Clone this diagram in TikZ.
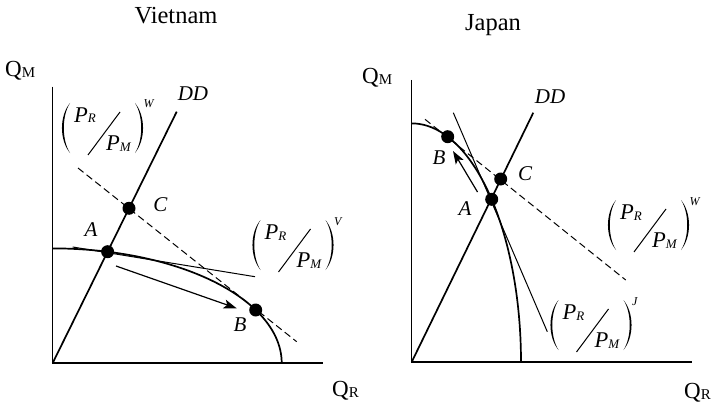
\documentclass[tikz,border=0pt]{standalone}
\usepackage{fontspec}
\setmainfont{Liberation Serif}
\usetikzlibrary{arrows.meta}

\tikzset{
  axisline/.style={line width=1.3pt},
  ppf/.style={line width=1.7pt},
  ddline/.style={line width=1.7pt},
  thinline/.style={line width=1pt},
  dashline/.style={line width=1pt, dash pattern=on 7pt off 4pt},
  movearrow/.style={line width=1.2pt, -{Stealth[length=13pt,width=9pt,inset=3pt]}},
  dot/.style={circle, fill=black, inner sep=0pt, minimum size=13pt},
  ptlabel/.style={font=\fontsize{21}{21}\selectfont\itshape, inner sep=0pt},
  titlelabel/.style={font=\fontsize{24.5}{24.5}\selectfont, inner sep=0pt, anchor=base},
  axlabel/.style={font=\fontsize{23}{23}\selectfont, inner sep=0pt, anchor=base west},
  pics/pratio/.style={code={
    \fill (-32.5,-25) .. controls (-43.2,-12) and (-43.2,12) .. (-32.5,25)
          .. controls (-40.8,12) and (-40.8,-12) .. (-32.5,-25) -- cycle;
    \fill (32.5,-25) .. controls (43.2,-12) and (43.2,12) .. (32.5,25)
          .. controls (40.8,12) and (40.8,-12) .. (32.5,-25) -- cycle;
    \node[anchor=base west, inner sep=0pt] (-num) at (-28.5,-6)
      {\fontsize{22.5}{22.5}\selectfont\itshape P\fontsize{13}{13}\selectfont\raisebox{-1pt}{R}};
    \draw[thinline] (-14.5,27) -- (17.5,-16);
    \node[anchor=base west, inner sep=0pt] (-den) at (3.5,22)
      {\fontsize{22.5}{22.5}\selectfont\itshape P\fontsize{13}{13}\selectfont\raisebox{-1pt}{M}};
    \node[anchor=base west, inner sep=0pt] (-sup) at (41,-20)
      {\fontsize{12}{12}\selectfont\itshape #1};
  }}
}

\begin{document}
\begin{tikzpicture}[x=1pt, y=-1pt]
\useasboundingbox (0,0) rectangle (713,404);

% ---------------- Vietnam ----------------
\node[titlelabel] (vtitle) at (176,24) {Vietnam};
\node[axlabel] (vqm) at (5,77) {Q{\fontsize{15}{15}\selectfont\raisebox{-1pt}{M}}};
\node[axlabel] (vqr) at (332,396) {Q{\fontsize{15}{15}\selectfont\raisebox{-1pt}{R}}};

\coordinate (vO) at (52.7,363);
\coordinate (vYtop) at (52.7,86.7);
\coordinate (vXend) at (323.3,363);
\coordinate (vDDtop) at (176.7,111.7);
\coordinate (vTanS) at (72.7,247);
\coordinate (vTanE) at (255,276.7);
\coordinate (vDashS) at (78,168);
\coordinate (vDashE) at (296.7,341.7);
\coordinate (vArS) at (116,266);
\coordinate (vArE) at (236.7,308.3);

\draw[axisline] (vYtop) -- (vO) -- (vXend);
\draw[ppf] plot[domain=0:90, samples=90, smooth] ({52.7+229*cos(\x)}, {363-114.6*sin(\x)});
\draw[ddline] (vO) -- (vDDtop);
\draw[thinline] (vTanS) -- (vTanE);
\draw[dashline] (vDashS) -- (vDashE);
\draw[movearrow] (vArS) -- (vArE);

\node[dot] (vA) at (107.6,251.7) {};
\node[dot] (vC) at (129,208.3) {};
\node[dot] (vB) at (255.7,310) {};

\node[ptlabel] (vDDl) at (193,94) {DD};
\node[ptlabel] (vAl) at (91,230) {A};
\node[ptlabel] (vCl) at (160.5,205) {C};
\node[ptlabel] (vBl) at (240,324.5) {B};

\pic (vw) at (102.5,128) {pratio=W};
\pic (vv) at (293,245) {pratio=V};

% ---------------- Japan ----------------
\node[titlelabel] (jtitle) at (493,31) {Japan};
\node[axlabel] (jqm) at (362,84) {Q{\fontsize{15}{15}\selectfont\raisebox{-1pt}{M}}};
\node[axlabel] (jqr) at (684,398) {Q{\fontsize{15}{15}\selectfont\raisebox{-1pt}{R}}};

\coordinate (jO) at (411.7,362);
\coordinate (jYtop) at (411.7,80);
\coordinate (jXend) at (691.7,362);
\coordinate (jDDtop) at (533.3,112.7);
\coordinate (jJS) at (453.3,112.7);
\coordinate (jJE) at (547.3,331.7);
\coordinate (jDashS) at (425,119.3);
\coordinate (jDashE) at (625.7,280);
\coordinate (jArS) at (477.5,192);
\coordinate (jArE) at (453,151);

\draw[axisline] (jYtop) -- (jO) -- (jXend);
\draw[ppf] plot[domain=0:90, samples=90, smooth] ({411.7+109.3*cos(\x)}, {362-238.6*sin(\x)});
\draw[ddline] (jO) -- (jDDtop);
\draw[thinline] (jJS) -- (jJE);
\draw[dashline] (jDashS) -- (jDashE);
\draw[movearrow] (jArS) -- (jArE);

\node[dot] (jA) at (491.7,199.3) {};
\node[dot] (jC) at (500.7,179) {};
\node[dot] (jB) at (447.7,136.7) {};

\node[ptlabel] (jDDl) at (550,96.5) {DD};
\node[ptlabel] (jAl) at (465,209) {A};
\node[ptlabel] (jCl) at (525,174) {C};
\node[ptlabel] (jBl) at (439,158) {B};

\pic (jw) at (648.5,225) {pratio=W};
\pic (jj) at (591,325) {pratio=J};
\end{tikzpicture}
\end{document}
